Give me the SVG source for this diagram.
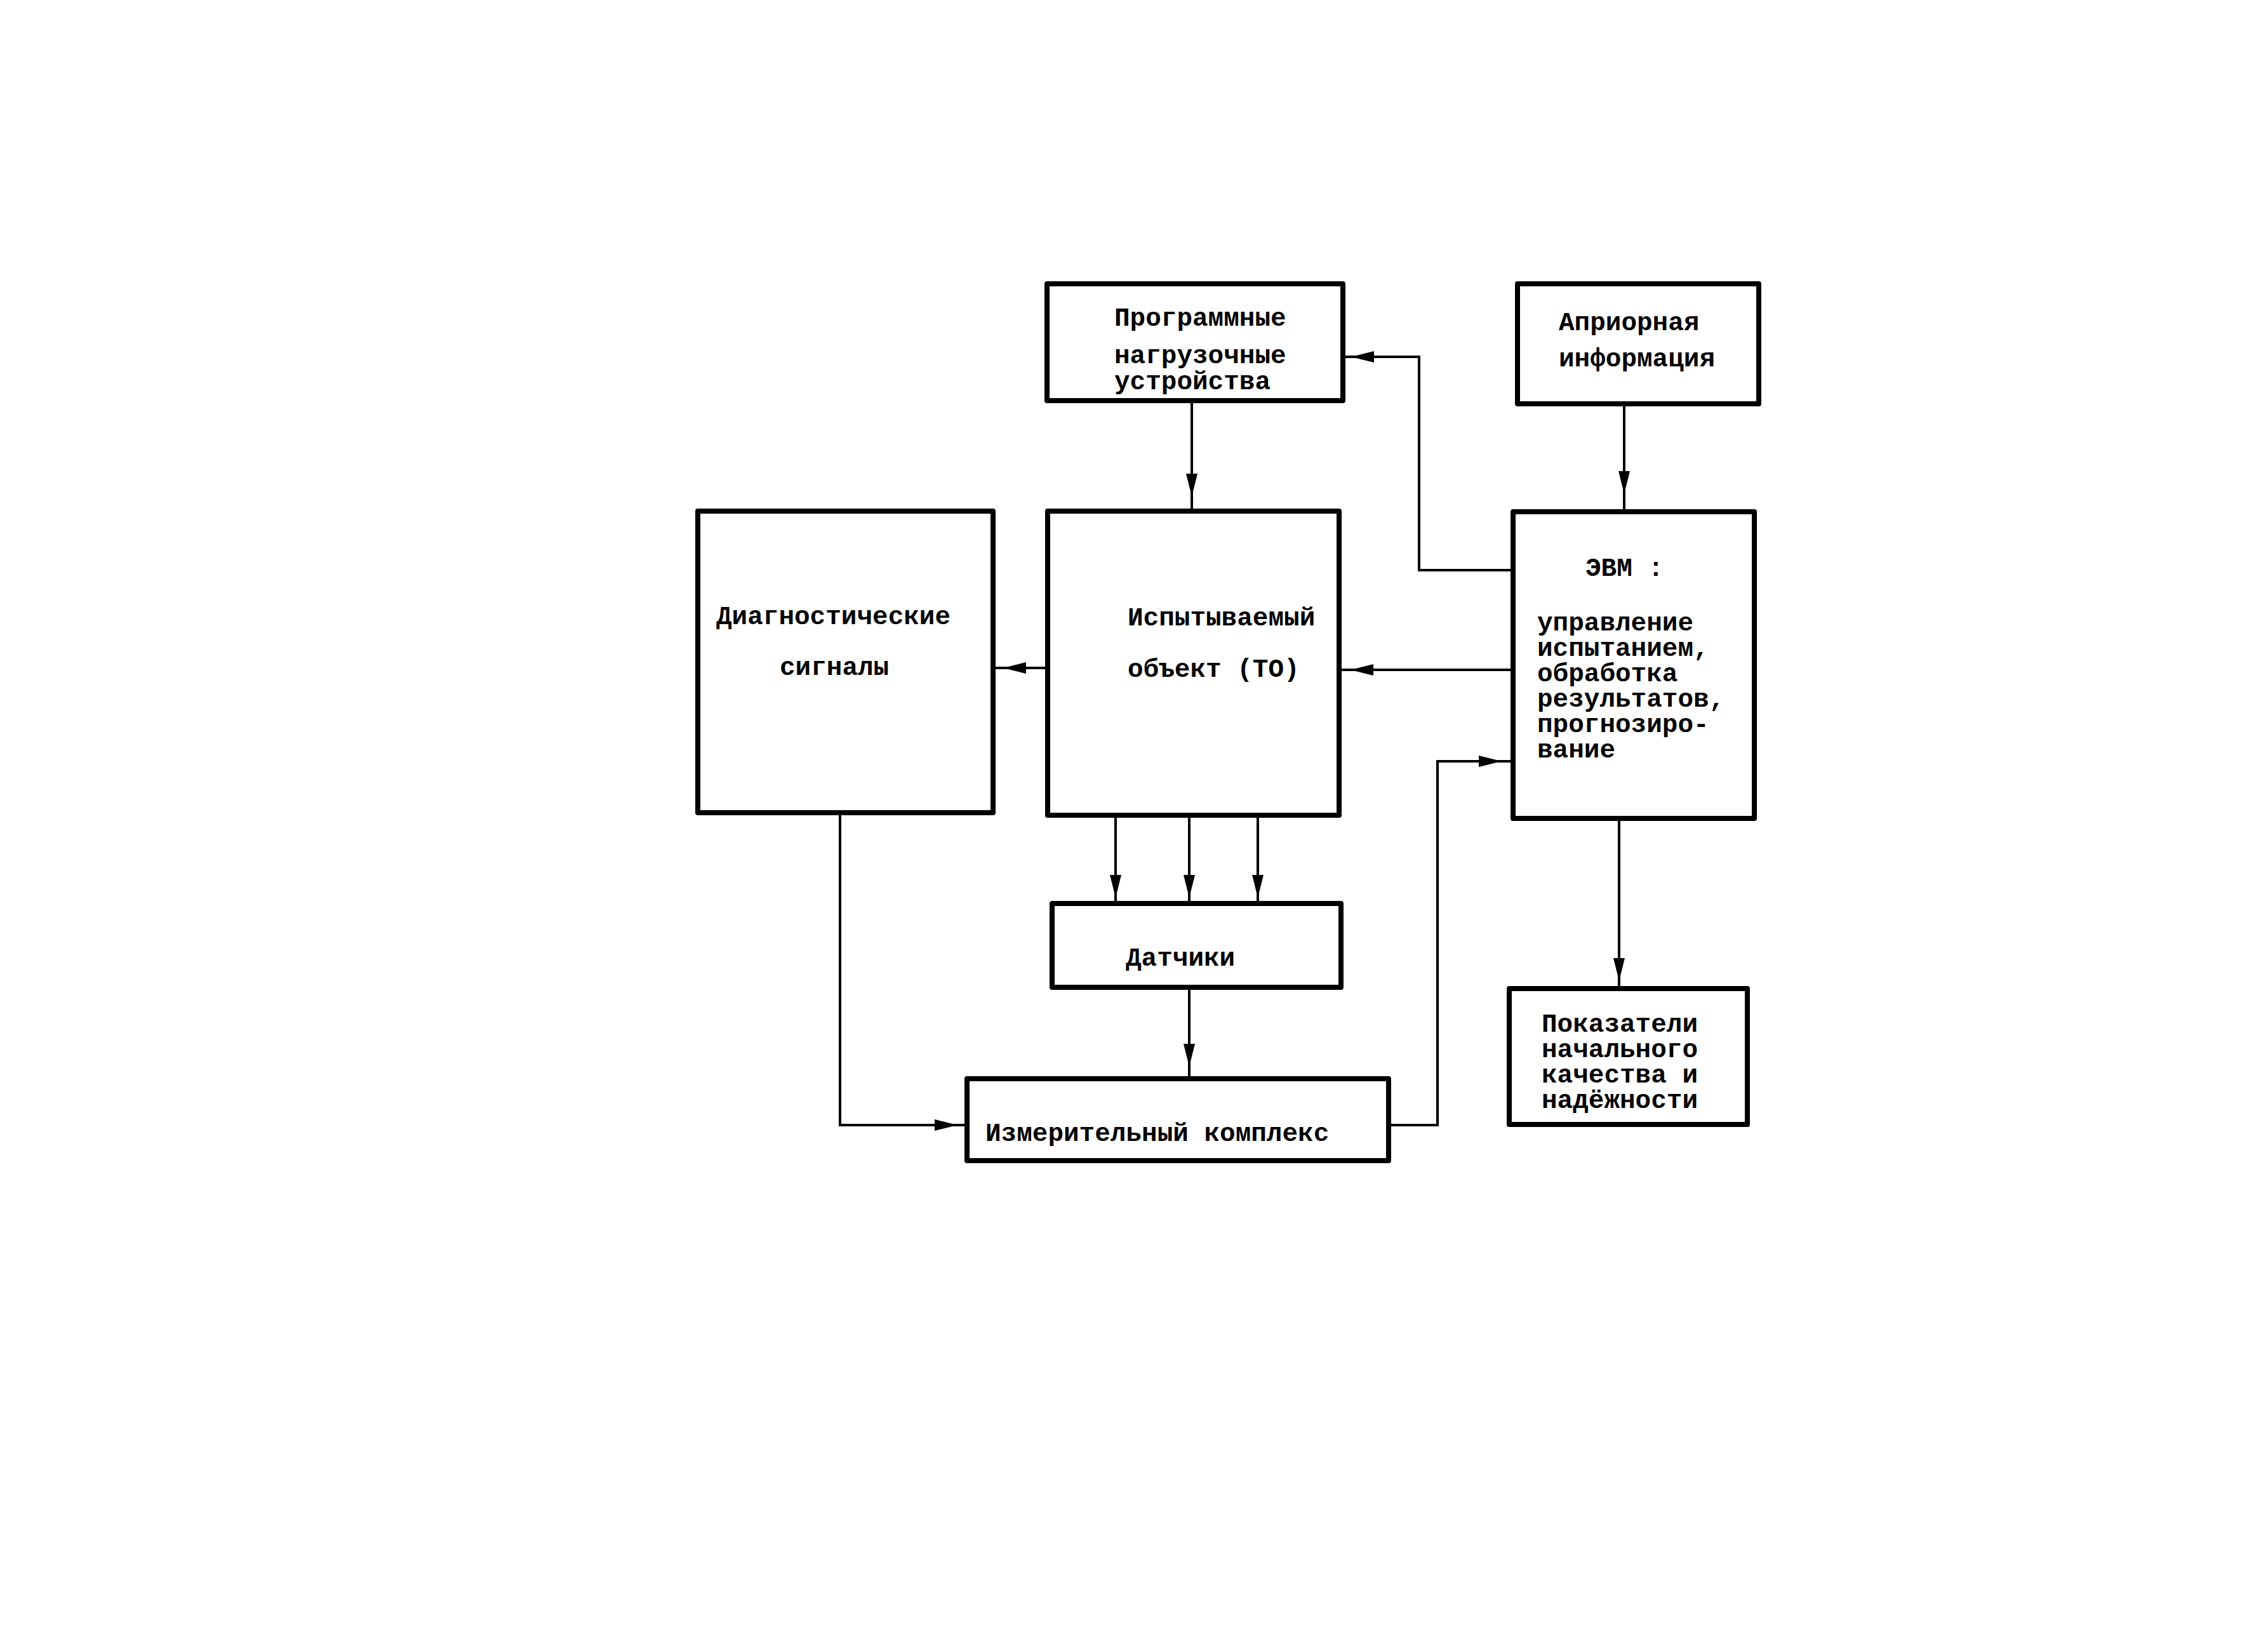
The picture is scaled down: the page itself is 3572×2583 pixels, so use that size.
<svg xmlns="http://www.w3.org/2000/svg" width="3572" height="2583" viewBox="0 0 3572 2583">
<style>
.box{fill:none;stroke:#000;stroke-width:8;stroke-linejoin:round}
.t{font-family:"Liberation Mono","DejaVu Sans Mono",monospace;font-weight:bold;font-size:41px;fill:#000}
.c{fill:none;stroke:#000;stroke-width:4}
</style>
<defs>
<marker id="ah" markerUnits="userSpaceOnUse" markerWidth="40" markerHeight="20" refX="36" refY="9" orient="auto"><path d="M0,0 L36,9 L0,18 Z" fill="#000"/></marker>
</defs>
<rect width="3572" height="2583" fill="#fff"/>
<g id="connectors">
<path class="c" d="M1877,631 V782" marker-end="url(#ah)"/><path class="c" d="M1877,780 V805"/>
<path class="c" d="M2383,898 H2235 V562 H2128" marker-end="url(#ah)"/><path class="c" d="M2130,562 H2115"/>
<path class="c" d="M2558,636 V778" marker-end="url(#ah)"/><path class="c" d="M2558,776 V806"/>
<path class="c" d="M2383,1055 H2127" marker-end="url(#ah)"/><path class="c" d="M2129,1055 H2109"/>
<path class="c" d="M1650,1052 H1580" marker-end="url(#ah)"/><path class="c" d="M1582,1052 H1564"/>
<path class="c" d="M1757,1284 V1414" marker-end="url(#ah)"/><path class="c" d="M1757,1412 V1423"/>
<path class="c" d="M1873,1284 V1414" marker-end="url(#ah)"/><path class="c" d="M1873,1412 V1423"/>
<path class="c" d="M1981,1284 V1414" marker-end="url(#ah)"/><path class="c" d="M1981,1412 V1423"/>
<path class="c" d="M1873,1555 V1680" marker-end="url(#ah)"/><path class="c" d="M1873,1678 V1699"/>
<path class="c" d="M1323,1280 V1772 H1508" marker-end="url(#ah)"/><path class="c" d="M1506,1772 H1523"/>
<path class="c" d="M2187,1772 H2264 V1199 H2365" marker-end="url(#ah)"/><path class="c" d="M2363,1199 H2383"/>
<path class="c" d="M2550,1289 V1545" marker-end="url(#ah)"/><path class="c" d="M2550,1543 V1557"/>
</g>
<g id="prog"><rect class="box" x="1649" y="447" width="466" height="184"/>
<text class="t" x="1755" y="513">Программные</text><text class="t" x="1755" y="572">нагрузочные</text><text class="t" x="1755" y="613">устройства</text></g>
<g id="apr"><rect class="box" x="2390" y="447" width="380" height="189"/>
<text class="t" x="2455" y="520">Априорная</text><text class="t" x="2455" y="577">информация</text></g>
<g id="diag"><rect class="box" x="1099" y="805" width="465" height="475"/>
<text class="t" x="1128" y="983">Диагностические</text><text class="t" x="1228" y="1063">сигналы</text></g>
<g id="to"><rect class="box" x="1650" y="805" width="459" height="479"/>
<text class="t" x="1776" y="985">Испытываемый</text><text class="t" x="1776" y="1066">объект (ТО)</text></g>
<g id="evm"><rect class="box" x="2383" y="806" width="380" height="483"/>
<text class="t" x="2497" y="907">ЭВМ :</text>
<text class="t" x="2421" y="993">управление</text><text class="t" x="2421" y="1033">испытанием,</text><text class="t" x="2421" y="1073">обработка</text><text class="t" x="2421" y="1113">результатов,</text><text class="t" x="2421" y="1153">прогнозиро-</text><text class="t" x="2421" y="1193">вание</text></g>
<g id="dat"><rect class="box" x="1657" y="1423" width="455" height="132"/>
<text class="t" x="1773" y="1521">Датчики</text></g>
<g id="izm"><rect class="box" x="1523" y="1699" width="664" height="129"/>
<text class="t" x="1552" y="1797">Измерительный комплекс</text></g>
<g id="pok"><rect class="box" x="2377" y="1557" width="375" height="214"/>
<text class="t" x="2428" y="1625">Показатели</text><text class="t" x="2428" y="1665">начального</text><text class="t" x="2428" y="1705">качества и</text><text class="t" x="2428" y="1745">надёжности</text></g>
</svg>
